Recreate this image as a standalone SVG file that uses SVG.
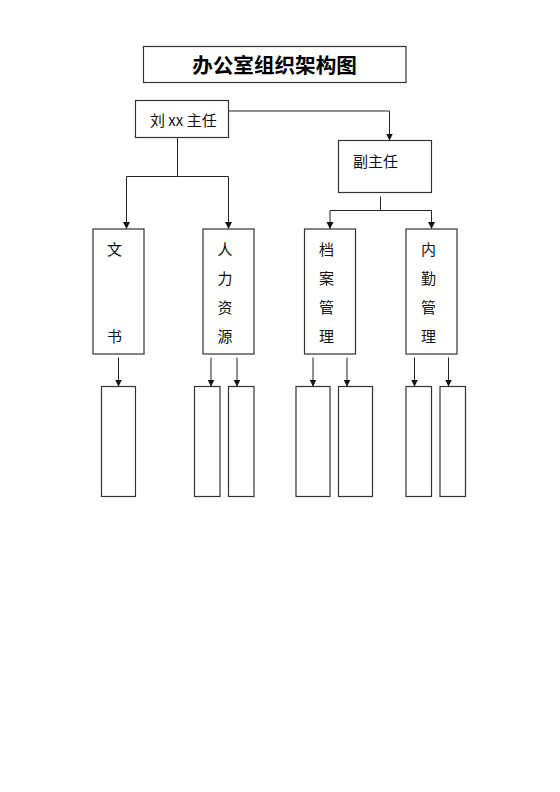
<svg xmlns="http://www.w3.org/2000/svg" width="560" height="792" viewBox="0 0 560 792">
<style>
.box{fill:#fff;stroke:#333;stroke-width:1.2}
.ln{fill:none;stroke:#222;stroke-width:1}
.t{font-family:"Noto Sans CJK SC","Liberation Sans",sans-serif;font-size:15px;fill:#111}
.title{font-family:"Noto Sans CJK SC","Liberation Sans",sans-serif;font-size:20.6px;font-weight:bold;fill:#000}
</style>
<defs>
<marker id="ar" markerWidth="7" markerHeight="8" refX="6.5" refY="3.5" orient="auto" markerUnits="userSpaceOnUse">
<path d="M0,0 L7,3.5 L0,7 Z" fill="#111"/>
</marker>
</defs>
<rect width="560" height="792" fill="#fff"/>
<g id="title"><rect class="box" x="143.5" y="46.5" width="262.5" height="36"/><text class="title" x="274.5" y="72.5" text-anchor="middle">办公室组织架构图</text></g>
<g id="connectors">
<path class="ln" d="M228.5,111 H389.5 V140" marker-end="url(#ar)"/>
<path class="ln" d="M177.5,137.5 V176.5 H126.5 V228.5" marker-end="url(#ar)"/>
<path class="ln" d="M177.5,176.5 H228.5 V228.5" marker-end="url(#ar)"/>
<path class="ln" d="M380.5,196.5 V210.5 H330 V228.5" marker-end="url(#ar)"/>
<path class="ln" d="M380.5,210.5 H431.5 V228.5" marker-end="url(#ar)"/>
<path class="ln" d="M118.5,357.5 V386" marker-end="url(#ar)"/>
<path class="ln" d="M211,357.5 V386" marker-end="url(#ar)"/>
<path class="ln" d="M237,357.5 V386" marker-end="url(#ar)"/>
<path class="ln" d="M313,357.5 V386" marker-end="url(#ar)"/>
<path class="ln" d="M347,357.5 V386" marker-end="url(#ar)"/>
<path class="ln" d="M414.5,357.5 V386" marker-end="url(#ar)"/>
<path class="ln" d="M448.5,357.5 V386" marker-end="url(#ar)"/>
</g>
<g id="n-director"><rect class="box" x="135.5" y="100.5" width="93" height="37"/><text class="t" x="150" y="125.5">刘 xx 主任</text></g>
<g id="n-deputy"><rect class="box" x="338.5" y="140.5" width="93" height="52"/><text class="t" x="353" y="167">副主任</text></g>
<g id="n-secretary"><rect class="box" x="93" y="229" width="51" height="125"/><text class="t" text-anchor="middle" x="114.5" y="255">文</text><text class="t" text-anchor="middle" x="114.5" y="342">书</text></g>
<g id="n-hr"><rect class="box" x="203" y="229" width="51" height="125"/><text class="t" text-anchor="middle" x="225" y="255">人</text><text class="t" text-anchor="middle" x="225" y="284">力</text><text class="t" text-anchor="middle" x="225" y="313">资</text><text class="t" text-anchor="middle" x="225" y="342">源</text></g>
<g id="n-archive"><rect class="box" x="304.5" y="229" width="51" height="125"/><text class="t" text-anchor="middle" x="326.5" y="255">档</text><text class="t" text-anchor="middle" x="326.5" y="284">案</text><text class="t" text-anchor="middle" x="326.5" y="313">管</text><text class="t" text-anchor="middle" x="326.5" y="342">理</text></g>
<g id="n-logistics"><rect class="box" x="406" y="229" width="51" height="125"/><text class="t" text-anchor="middle" x="428.5" y="255">内</text><text class="t" text-anchor="middle" x="428.5" y="284">勤</text><text class="t" text-anchor="middle" x="428.5" y="313">管</text><text class="t" text-anchor="middle" x="428.5" y="342">理</text></g>
<g id="n-sub1"><rect class="box" x="101.5" y="386.5" width="34" height="110"/></g>
<g id="n-sub2"><rect class="box" x="194.5" y="386.5" width="25.5" height="110"/></g>
<g id="n-sub3"><rect class="box" x="228.5" y="386.5" width="25.5" height="110"/></g>
<g id="n-sub4"><rect class="box" x="296" y="386.5" width="34" height="110"/></g>
<g id="n-sub5"><rect class="box" x="338.5" y="386.5" width="34" height="110"/></g>
<g id="n-sub6"><rect class="box" x="406" y="386.5" width="25.5" height="110"/></g>
<g id="n-sub7"><rect class="box" x="440" y="386.5" width="25.5" height="110"/></g>
</svg>
